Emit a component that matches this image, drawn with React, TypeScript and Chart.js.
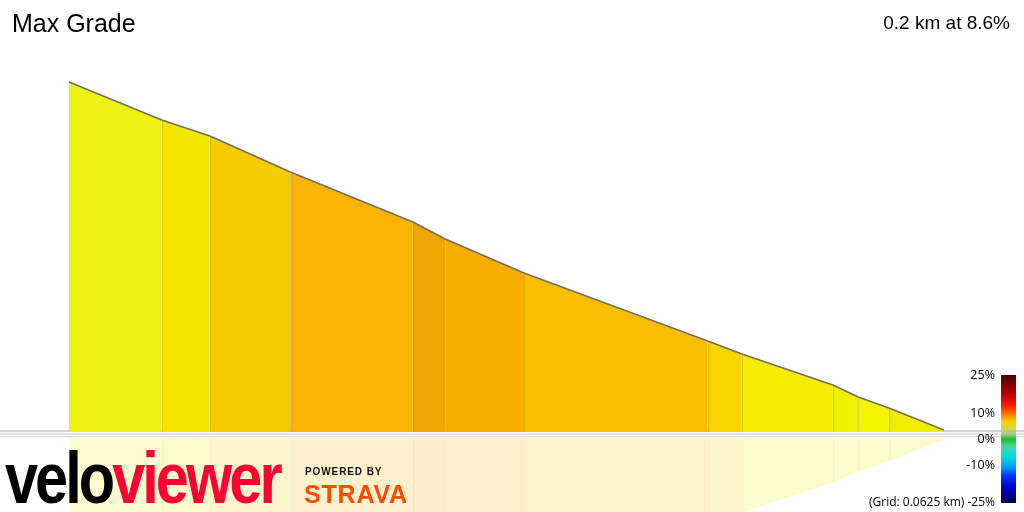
import React, { useEffect, useRef } from "react";
import { Chart, registerables } from "chart.js";

Chart.register(...registerables);

// ---- data ----
const distanceKm = [0, 0.106, 0.161, 0.253, 0.393, 0.43, 0.52, 0.73, 0.769, 0.873, 0.902, 0.937, 1.0];
const elevationM = [70, 62.4, 59.2, 52, 42, 38.6, 31.8, 18.2, 15.6, 9.4, 7, 4.8, 0.4];
const segmentColors = [
  "#eef212", "#f5e600", "#f5cb00", "#f8b400", "#f0a600", "#f7ae00",
  "#f9be00", "#f8d400", "#f5ec00", "#eef200", "#f5f500", "#f0ec00",
];
const colorbarValues = [25, 10, 0, -10];
const colorbarLabels = ["25%", "10%", "0%", "-10%"];
const titleText = "Max Grade";
const summaryText = "0.2 km at 8.6%";
const gridText = "(Grid: 0.0625 km) -25%";

const REFLECT_TOP = -1.2;
const REFLECT_FACTOR = 0.95;

function hexToRgba(hex: string, a: number) {
  const n = parseInt(hex.slice(1), 16);
  return `rgba(${(n >> 16) & 255},${(n >> 8) & 255},${n & 255},${a})`;
}

const baselinePlugin = {
  id: "baseline",
  beforeDatasetsDraw(chart: any) {
    const { ctx, width } = chart;
    const y0 = chart.scales.y.getPixelForValue(0);
    ctx.save();
    ctx.fillStyle = "#d4d4d4";
    ctx.fillRect(0, y0 - 2, width, 2.5);
    ctx.restore();
  },
  afterDatasetsDraw(chart: any) {
    const { ctx, width } = chart;
    const xs = chart.scales.x;
    const ys = chart.scales.y;
    const y0 = ys.getPixelForValue(0);
    ctx.save();
    // faint separators between grade segments
    for (let i = 1; i < distanceKm.length - 1; i++) {
      const x = Math.round(xs.getPixelForValue(distanceKm[i])) + 0.5;
      const yt = ys.getPixelForValue(elevationM[i]);
      ctx.strokeStyle = "rgba(190,150,0,0.35)";
      ctx.lineWidth = 1.2;
      ctx.beginPath();
      ctx.moveTo(x, yt + 1);
      ctx.lineTo(x, y0);
      ctx.stroke();
      const yr = ys.getPixelForValue(REFLECT_TOP - elevationM[i] * REFLECT_FACTOR);
      ctx.strokeStyle = "rgba(230,210,150,0.25)";
      ctx.beginPath();
      ctx.moveTo(x, ys.getPixelForValue(REFLECT_TOP));
      ctx.lineTo(x, yr);
      ctx.stroke();
    }
    ctx.fillStyle = "rgba(255,255,255,0.7)";
    ctx.fillRect(0, y0, width, 1.5);
    ctx.fillStyle = "#d2d2d2";
    ctx.fillRect(0, y0 + 1.5, width, 1.2);
    ctx.fillStyle = "#d6d6d6";
    ctx.fillRect(0, y0 + 4, width, 1.2);
    ctx.restore();
  },
};

export default function App() {
  const canvasRef = useRef<HTMLCanvasElement | null>(null);

  useEffect(() => {
    if (!canvasRef.current) return;
    const profile = distanceKm.map((d, i) => ({ x: d, y: elevationM[i] }));
    const reflection = distanceKm.map((d, i) => ({ x: d, y: REFLECT_TOP - elevationM[i] * REFLECT_FACTOR }));
    const chart = new Chart(canvasRef.current, {
      type: "line",
      data: {
        datasets: [
          {
            data: reflection,
            borderWidth: 0,
            pointRadius: 0,
            fill: { value: REFLECT_TOP },
            backgroundColor: hexToRgba(segmentColors[0], 0.2),
            segment: {
              backgroundColor: (c: any) => hexToRgba(segmentColors[c.p0DataIndex], 0.2),
            },
            tension: 0,
            order: 2,
          } as any,
          {
            data: profile,
            borderColor: "#6e6e6e",
            borderWidth: 1.5,
            pointRadius: 0,
            fill: "origin",
            backgroundColor: segmentColors[0],
            segment: {
              backgroundColor: (c: any) => segmentColors[c.p0DataIndex],
            },
            tension: 0,
            order: 1,
          } as any,
        ],
      },
      options: {
        responsive: false,
        animation: false,
        devicePixelRatio: 1,
        layout: { padding: 0 },
        plugins: { legend: { display: false }, tooltip: { enabled: false } },
        scales: {
          x: { type: "linear", display: false, min: -69 / 875, max: (1024 - 69) / 875 },
          y: { type: "linear", display: false, min: -16, max: 86.4 },
        },
      },
      plugins: [baselinePlugin],
    });
    return () => chart.destroy();
  }, []);

  const barTop = 375;
  const barH = 128;
  const pxPerPct = barH / 50;

  return (
    <div
      style={{
        position: "fixed",
        left: 0,
        top: 0,
        width: 1024,
        height: 512,
        background: "#fff",
        overflow: "hidden",
        fontFamily: "'Liberation Sans', Arial, sans-serif",
      }}
    >
      <canvas ref={canvasRef} width={1024} height={512} style={{ position: "absolute", left: 0, top: 0 }} />
      <div style={{ position: "absolute", left: 12, top: 9, fontSize: 25, color: "#000", whiteSpace: "nowrap" }}>
        {titleText}
      </div>
      <div style={{ position: "absolute", right: 14, top: 12, fontSize: 19, color: "#000", whiteSpace: "nowrap" }}>
        {summaryText}
      </div>
      {/* colour bar */}
      <div
        style={{
          position: "absolute",
          left: 1001,
          top: barTop,
          width: 15,
          height: barH,
          background:
            "linear-gradient(to bottom, #4a0000 0%, #b00000 14%, #ff1a00 24%, #ff8000 31%, #f0d800 37%, #d8d850 42%, #a8c890 46%, #20c020 50%, #50d0a0 56%, #00e0e0 63%, #00a8f0 71%, #0040ff 78%, #0000d0 87%, #000050 100%)",
        }}
      />
      {colorbarValues.map((v, i) => (
        <div
          key={colorbarLabels[i]}
          style={{
            position: "absolute",
            right: 1024 - 995,
            top: barTop + (25 - v) * pxPerPct - 9,
            fontSize: 12.5,
            lineHeight: "18px",
            fontFamily: "'Open Sans', sans-serif",
            color: "#000",
            whiteSpace: "nowrap",
          }}
        >
          {colorbarLabels[i]}
        </div>
      ))}
      <div
        style={{
          position: "absolute",
          right: 1024 - 995,
          top: barTop + 50 * pxPerPct - 10,
          fontSize: 12,
          lineHeight: "18px",
          fontFamily: "'Open Sans', sans-serif",
          color: "#000",
          whiteSpace: "nowrap",
        }}
      >
        {gridText}
      </div>
      {/* logos */}
      <div
        style={{
          position: "absolute",
          left: 5,
          top: 444,
          fontSize: 70,
          fontWeight: 900,
          letterSpacing: -3.5,
          lineHeight: "70px",
          transform: "scale(0.85, 1.04)",
          transformOrigin: "0px 59px",
          whiteSpace: "nowrap",
          fontFamily: "'Liberation Sans', Arial, sans-serif",
        }}
      >
        <span style={{ color: "#000" }}>velo</span>
        <span style={{ color: "#ff0033" }}>viewer</span>
      </div>
      <div
        style={{
          position: "absolute",
          left: 305,
          top: 466,
          fontSize: 10,
          fontWeight: 700,
          letterSpacing: 0.9,
          color: "#111",
          whiteSpace: "nowrap",
          lineHeight: "12px",
        }}
      >
        POWERED BY
      </div>
      <div
        style={{
          position: "absolute",
          left: 304,
          top: 480,
          fontSize: 25,
          fontWeight: 900,
          color: "#fc4c02",
          whiteSpace: "nowrap",
          lineHeight: "28px",
          letterSpacing: 0.8,
        }}
      >
        STRAVA
      </div>
    </div>
  );
}
